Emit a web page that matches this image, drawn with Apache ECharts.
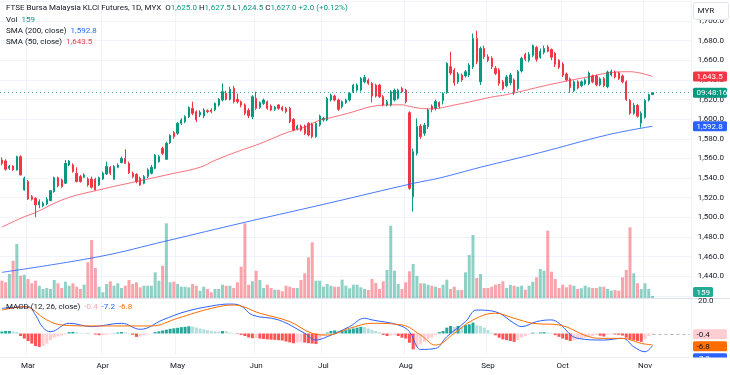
<!DOCTYPE html>
<html><head><meta charset="utf-8">
<script src="https://cdn.jsdelivr.net/npm/echarts@6/dist/echarts.min.js"></script>
<style>html,body{margin:0;padding:0;background:#fff}#c{width:730px;height:375px}</style>
</head><body><div id="c"></div>
<script>
// ---------- DATA ----------
const firstDay = '2024-02-21';
const holidays = ['2024-03-28','2024-04-10','2024-04-11','2024-05-01','2024-05-22','2024-06-03','2024-06-17','2024-07-08','2024-09-16','2024-10-31'];
const monthLabels = ['Jan','Feb','Mar','Apr','May','Jun','Jul','Aug','Sep','Oct','Nov','Dec'];
const padBars = 10;
// [open, close, low, high]
const ohlc = [
[1558.4,1555.0,1553.0,1561.1],[1557.4,1548.9,1547.6,1559.1],[1550.0,1552.3,1548.3,1553.3],[1552.3,1548.3,1547.6,1553.0],[1548.3,1561.8,1547.6,1562.8],
[1561.8,1543.2,1542.8,1563.2],[1527.9,1539.8,1527.2,1541.5],[1536.4,1518.8,1517.8,1538.1],[1521.1,1518.4,1517.1,1522.8],[1519.4,1512.7,1500.0,1520.5],
[1512.7,1516.1,1509.3,1518.4],[1511.7,1514.4,1510.3,1516.1],[1513.7,1518.4,1512.3,1520.5],[1517.1,1527.2,1516.4,1527.9],[1526.2,1540.4,1525.2,1541.5],
[1540.4,1532.0,1530.6,1541.5],[1538.1,1531.3,1530.0,1539.4],[1534.7,1555.0,1534.0,1558.4],[1553.3,1557.4,1552.3,1558.4],[1553.3,1546.6,1545.5,1555.0],
[1544.9,1536.4,1535.7,1551.0],[1541.5,1536.4,1535.4,1543.2],[1540.8,1543.2,1540.1,1544.9],[1539.1,1533.0,1531.3,1540.8],[1539.1,1530.6,1529.3,1541.5],
[1538.8,1527.9,1527.2,1540.4],[1533.0,1540.4,1532.0,1541.5],[1539.1,1544.9,1538.1,1546.6],[1544.2,1551.7,1543.2,1556.7],[1551.0,1544.9,1543.2,1552.3],
[1538.8,1551.7,1538.1,1553.3],[1551.0,1553.3,1550.0,1555.0],[1555.7,1560.1,1555.0,1561.8],[1560.1,1555.0,1554.4,1569.3],[1555.0,1545.5,1544.2,1556.7],
[1544.9,1541.5,1539.8,1546.6],[1543.8,1536.4,1534.7,1544.9],[1539.8,1533.0,1532.0,1541.5],[1534.7,1541.5,1533.7,1543.2],[1541.5,1548.3,1539.8,1550.0],
[1544.9,1551.0,1543.8,1553.3],[1549.9,1563.5,1548.9,1564.5],[1556.7,1561.8,1555.7,1563.5],[1570.3,1565.2,1563.5,1572.0],[1559.1,1575.4,1558.4,1577.1],
[1576.0,1583.5,1574.7,1584.5],[1586.3,1582.2,1580.0,1588.0],[1585.6,1595.8,1584.0,1597.0],[1595.8,1599.2,1594.0,1601.0],[1597.5,1602.5,1596.0,1604.0],
[1602.5,1612.0,1601.0,1613.0],[1611.0,1606.0,1604.0,1617.8],[1607.6,1599.2,1597.0,1609.0],[1604.2,1606.9,1602.0,1609.0],[1603.2,1609.3,1601.0,1611.0],
[1608.6,1607.6,1606.0,1610.0],[1609.3,1607.6,1606.0,1611.0],[1609.3,1616.1,1608.0,1617.0],[1614.4,1620.2,1613.0,1621.5],[1619.5,1628.0,1618.0,1636.4],
[1626.3,1620.2,1619.0,1629.0],[1620.2,1630.3,1619.0,1633.0],[1631.4,1617.8,1616.0,1634.0],[1620.2,1617.8,1616.0,1626.0],[1617.8,1614.4,1612.0,1619.0],
[1614.4,1605.9,1604.0,1616.0],[1609.0,1603.5,1601.0,1611.0],[1602.5,1622.9,1600.0,1624.5],[1621.2,1611.0,1609.5,1628.0],[1612.0,1616.8,1610.5,1618.0],
[1616.1,1619.5,1614.5,1621.0],[1617.8,1611.0,1609.5,1619.0],[1613.4,1609.3,1608.0,1615.0],[1610.0,1612.0,1608.5,1613.5],[1614.4,1611.0,1609.5,1615.5],
[1612.0,1609.3,1608.0,1613.5],[1611.0,1607.6,1606.0,1612.5],[1611.0,1597.4,1596.0,1612.5],[1599.8,1588.9,1587.5,1601.0],[1590.0,1593.0,1588.5,1594.5],
[1593.0,1588.9,1587.5,1594.5],[1593.0,1585.5,1584.0,1594.5],[1595.7,1583.9,1582.5,1597.0],[1595.0,1582.2,1580.5,1596.5],[1582.2,1595.7,1581.0,1597.0],
[1594.0,1603.2,1592.5,1604.5],[1599.1,1600.8,1597.5,1602.5],[1599.1,1621.2,1598.0,1622.5],[1619.5,1624.5,1618.0,1626.0],[1623.5,1619.5,1618.0,1625.0],
[1619.5,1610.0,1608.5,1621.0],[1612.7,1617.8,1611.0,1619.0],[1616.8,1619.5,1615.5,1621.0],[1619.5,1626.2,1618.0,1627.5],[1628.0,1634.7,1626.5,1636.0],
[1629.6,1634.7,1628.0,1636.5],[1629.6,1641.5,1628.0,1643.0],[1638.0,1642.5,1636.5,1645.0],[1639.8,1636.4,1635.0,1641.5],[1636.4,1623.5,1617.0,1638.0],
[1634.7,1623.5,1622.0,1636.0],[1634.7,1622.9,1621.5,1636.0],[1622.9,1614.4,1613.0,1624.5],[1614.4,1617.8,1613.0,1619.5],[1614.4,1628.0,1613.0,1629.5],
[1619.5,1629.6,1618.0,1631.0],[1621.2,1629.6,1620.0,1631.0],[1631.3,1627.9,1626.5,1633.0],[1629.6,1617.8,1616.0,1631.0],[1606.6,1529.6,1528.0,1608.0],
[1521.0,1566.9,1505.8,1570.0],[1565.2,1592.4,1563.0,1600.8],[1593.0,1582.2,1580.0,1595.0],[1585.6,1593.8,1583.0,1596.0],[1592.4,1609.3,1590.0,1611.0],
[1613.4,1610.0,1607.0,1615.0],[1611.0,1618.0,1609.0,1620.0],[1617.0,1613.0,1611.0,1618.0],[1619.0,1626.0,1615.0,1627.5],[1627.0,1656.8,1626.0,1658.0],
[1653.4,1647.0,1645.0,1668.7],[1650.0,1637.0,1634.0,1652.0],[1638.0,1646.0,1636.0,1648.0],[1645.0,1640.0,1638.0,1646.5],[1644.0,1648.3,1642.5,1650.0],
[1645.0,1655.1,1643.0,1657.0],[1653.4,1682.2,1651.0,1687.3],[1682.2,1658.5,1656.0,1690.0],[1638.1,1672.0,1634.7,1674.0],[1672.0,1663.5,1661.0,1675.0],
[1663.5,1660.0,1658.0,1666.0],[1662.0,1653.4,1651.0,1664.0],[1651.7,1646.6,1645.0,1654.0],[1650.0,1636.4,1634.0,1652.0],[1638.0,1631.0,1629.5,1640.0],
[1634.0,1643.0,1632.5,1645.0],[1637.0,1645.0,1634.5,1647.0],[1640.0,1627.5,1624.5,1641.5],[1631.0,1648.5,1629.0,1650.0],[1649.0,1662.0,1647.5,1663.5],
[1666.0,1661.0,1659.0,1667.5],[1660.0,1666.0,1658.0,1668.5],[1665.0,1675.0,1663.0,1676.0],[1673.0,1661.0,1658.5,1674.5],[1663.0,1669.0,1661.5,1672.0],
[1668.0,1672.0,1666.0,1675.0],[1673.5,1669.0,1668.0,1675.5],[1671.0,1663.0,1660.0,1672.0],[1667.0,1656.0,1653.0,1668.5],[1660.0,1653.0,1651.0,1661.0],
[1656.0,1645.0,1643.0,1658.0],[1646.0,1640.0,1638.5,1647.5],[1641.0,1632.0,1627.0,1642.5],[1629.0,1638.0,1627.5,1639.5],[1638.0,1632.0,1630.5,1639.5],
[1634.0,1638.0,1632.5,1639.5],[1636.0,1640.0,1634.5,1641.5],[1636.0,1647.0,1634.5,1648.5],[1644.0,1638.0,1636.5,1645.5],[1644.0,1635.0,1633.5,1645.5],
[1635.0,1641.0,1633.5,1642.5],[1641.5,1634.0,1632.5,1643.0],[1633.0,1648.0,1631.5,1649.5],[1645.0,1648.5,1643.5,1650.5],[1648.0,1643.0,1641.5,1649.5],
[1647.0,1641.5,1640.0,1648.5],[1644.0,1638.0,1636.5,1645.5],[1638.0,1620.0,1618.5,1639.5],[1619.0,1606.0,1604.5,1620.5],[1606.0,1614.0,1604.5,1616.5],
[1614.0,1603.0,1601.5,1615.5],[1596.0,1606.0,1591.5,1608.0],[1602.0,1619.0,1600.5,1620.5],[1619.5,1625.0,1618.0,1626.0],[1625.0,1627.0,1624.5,1627.5]
];
const volume = [
1384,1256,1920,2984,4320,1784,1864,1520,1176,1384,
984,720,800,720,1440,1176,800,1304,984,1176,
904,720,1064,2856,4640,2400,904,456,1120,1336,
984,1176,800,984,1440,1120,1256,856,984,984,
984,2056,1384,2584,5976,1256,1304,1120,904,904,
856,1120,984,584,904,720,456,720,720,1064,
984,984,800,1256,2504,5976,1064,1336,2184,1440,
800,1064,800,664,664,536,984,904,800,800,
1440,1976,3256,4456,1384,1384,904,1120,984,904,
904,1464,984,776,1064,1064,856,
720,640,1520,1200,720,1336,2240,5784,2184,1120,
720,1256,2136,2720,1760,1176,1176,1064,984,904,
800,1064,1464,720,904,640,640,2056,3440,5040,
1600,1920,800,800,904,1064,1120,1336,800,1040,
984,904,984,664,984,1304,1656,2320,2184,5384,
2104,1520,800,1064,856,1064,984,720,776,984,
856,800,800,904,904,720,584,640,584,1656,
2240,5656,1976,1176,720,1176,720,159
];
// [bar index, value]
const sma50 = [[0,1490],[5,1499],[9,1505],[17,1519],[26,1528],[36,1536.5],[45,1544],[53,1551],[57,1558],[63,1567],[69,1575],[76,1586],[81,1592],[85,1599],[88,1601.5],[94,1607.5],[99,1613],[104,1614.5],[107,1614.6],[109,1613],[112,1611],[115,1610.5],[121,1614.4],[125,1617.5],[131,1622.5],[135,1625],[144,1633],[150,1638],[157,1643.2],[163,1647.5],[168,1648.3],[174,1643.5]];
const sma200 = [[0,1444],[26,1460],[44,1476],[65,1495],[80,1508],[88,1515],[110,1534.6],[117,1540],[128,1551],[144,1566],[162,1584],[174,1592.8]];
const macdLine = [[0,15],[7,16],[9,11],[11,3.5],[13,1.1],[18,6.1],[24,4.1],[32,6.1],[37,2.5],[43,8.1],[49,13],[56,16.4],[61,17.6],[64,16.4],[67,11],[74,8.1],[81,0.1],[84,-3.9],[87,-1.9],[93,4.1],[97,9.1],[99,8.1],[106,5.1],[109,1.1],[111,-7.9],[112,-9.5],[116,-8.9],[119,-1.9],[124,7.1],[127,14],[132,13],[137,6.1],[139,4.1],[143,7.1],[147,8.1],[149,6.1],[154,-2.9],[161,-3.9],[166,-2.9],[169,-7.9],[172,-10.9],[174,-7.2]];
const signalLine = [[0,14],[6,16],[12,8.1],[16,5.1],[24,4.5],[32,4.5],[40,4.5],[47,9.1],[56,15],[62,17],[69,12.1],[77,7.1],[83,0.1],[87,-0.9],[93,3.1],[99,6.1],[107,5.1],[112,-0.9],[116,-6.9],[121,0.1],[126,8.1],[132,12.1],[137,9.1],[142,6.1],[149,5.1],[157,-1.9],[161,-2.9],[166,-2.9],[171,-5.9],[174,-6.8]];
const hist = [
1.2,1.5,1.5,1.2,1.0,-1.5,-3,-4.5,-6,-7.5,
-8,-7.5,-6,-4,-2.5,-1.8,-1.2,-0.6,0.8,1.0,
0.8,0.3,0.2,0.2,0.1,-0.6,-1.0,-1.0,-0.8,-0.5,
0.2,0.6,0.9,0.7,0.3,-0.8,-2.0,-1.8,-1.2,-0.6,
-0.2,0.8,1.3,1.8,2.3,2.8,3.1,3.4,3.8,4.0,
4.3,4.2,3.6,3.0,2.5,2.0,1.6,1.3,1.2,1.5,
1.4,0.6,0.2,-0.3,-0.8,-1.5,-2.3,-2.8,-2.7,-3.0,
-3.3,-3.5,-3.7,-3.8,-4.0,-4.2,-4.8,-5.3,-5.8,-5.5,
-5.2,-5.4,-5.8,-6.0,-6.3,-3.5,-1.5,0.5,1.5,1.8,
1.5,1.7,2.0,2.5,3.0,3.5,4.0,3.8,3.0,2.2,
1.5,0.8,-0.8,-1.5,-1.2,-1.0,-1.5,-2.5,-3.0,-5.5,
-9.5,-8.0,-6.5,-5.0,-3.5,-2.5,-1.0,0.8,1.5,3.5,
4.5,4.0,4.5,4.0,5.0,5.5,6.5,5.0,4.5,3.5,
2.0,0.5,-1.0,-2.5,-3.5,-4.0,-4.5,-5.0,-4.0,-2.5,
-1.5,-0.5,0.5,0.4,0.6,0.8,0.6,0.2,-1.0,-2.0,
-3.0,-3.8,-4.5,-4.0,-3.5,-3.0,-2.6,-2.0,-1.5,-1.0,
-1.3,-1.8,-0.8,-0.5,-0.6,-0.8,-1.2,-2.5,-3.5,-4.0,
-4.5,-5.0,-3.5,-1.5,-0.4
];
const priceTicks = [1440,1460,1480,1500,1520,1540,1560,1580,1600,1620,1640,1660,1680,1700];
const countdown = '09:48:16';

// ---------- BUILD ----------
const FONT = 'Roboto, "Noto Sans", sans-serif';
const UP = '#089981', DN = '#F23645';
const hol = new Set(holidays);
const dates = [];
{
  const d = new Date(firstDay + 'T00:00:00Z');
  while (dates.length < ohlc.length) {
    const wd = d.getUTCDay();
    const s = d.toISOString().slice(0,10);
    if (wd !== 0 && wd !== 6 && !hol.has(s)) dates.push(s);
    d.setUTCDate(d.getUTCDate() + 1);
  }
}
const cats = dates.concat(Array.from({length: padBars}, (_, i) => 'pad' + i));
const monthStart = new Set();
for (let i = 1; i < dates.length; i++) if (dates[i].slice(5,7) !== dates[i-1].slice(5,7)) monthStart.add(i);
const isUp = i => ohlc[i][1] >= ohlc[i][0];
const fmt1 = v => v.toLocaleString('en-US', {minimumFractionDigits:1, maximumFractionDigits:1});

const N = cats.length;
const STEP = 3.739;
const GW = N * STEP;
const PX_PER = 0.982; // px per price unit
const pMin = 1420, pMax = 1740;
const yTop1680 = 40.6;
const gridTop = yTop1680 - (pMax - 1680) * PX_PER;
const gridH = (pMax - pMin) * PX_PER;
const PANE_BOTTOM = 298;
const MACD_TOP = 298, MACD_BOTTOM = 355;
const M_ZERO_Y = 333.5, M_PX = 1.675;

const histData = hist.map((v, i) => {
  const p = i > 0 ? hist[i-1] : v;
  let c;
  if (v >= 0) c = v >= p ? '#26A69A' : '#B2DFDB';
  else c = v < p ? '#FF5252' : '#FFCDD2';
  return {value: v, itemStyle: {color: c}};
});

const splitX = {show: true, interval: (i) => monthStart.has(i), lineStyle: {color: '#f0f3fa', width: 1}};
const last = ohlc.length - 1;
const lastClose = ohlc[last][1];

const option = {
  animation: false,
  backgroundColor: '#ffffff',
  grid: [
    {left: 0, width: GW, top: gridTop, height: gridH, outerBoundsMode: 'none', containLabel: false},
    {left: 0, width: GW, top: 0, height: PANE_BOTTOM, outerBoundsMode: 'none', containLabel: false},
    {left: 0, width: GW, top: MACD_TOP, height: MACD_BOTTOM - MACD_TOP, outerBoundsMode: 'none', containLabel: false}
  ],
  xAxis: [
    {type: 'category', gridIndex: 0, data: cats, boundaryGap: true, axisLine: {show: false}, axisTick: {show: false}, axisLabel: {show: false}, splitLine: splitX},
    {type: 'category', gridIndex: 1, data: cats, boundaryGap: true, show: false},
    {type: 'category', gridIndex: 2, data: cats, boundaryGap: true, axisLine: {show: false}, axisTick: {show: false},
     axisLabel: {interval: (i) => monthStart.has(i), formatter: (v) => v.startsWith('pad') ? '' : monthLabels[parseInt(v.slice(5,7),10)-1],
       fontSize: 8, color: '#131722', fontFamily: FONT, margin: 7},
     splitLine: splitX}
  ],
  yAxis: [
    {type: 'value', gridIndex: 0, position: 'right', min: pMin, max: pMax, interval: 20,
     axisLine: {show: false}, axisTick: {show: false},
     axisLabel: {formatter: v => priceTicks.includes(v) ? fmt1(v) : '', fontSize: 8, color: '#131722', fontFamily: FONT, margin: 6},
     splitLine: {lineStyle: {color: '#f0f3fa', width: 1}}},
    {type: 'value', gridIndex: 1, min: 0, max: PANE_BOTTOM * 80, show: false, splitLine: {show: false}},
    {type: 'value', gridIndex: 2, position: 'right',
     min: -(MACD_BOTTOM - M_ZERO_Y) / M_PX, max: (M_ZERO_Y - MACD_TOP) / M_PX,
     axisLine: {show: false}, axisTick: {show: false}, axisLabel: {show: false}, splitLine: {show: false}}
  ],
  series: [
    {type: 'bar', xAxisIndex: 1, yAxisIndex: 1, barWidth: 3, z: 1, silent: true,
     data: volume.map((v, i) => ({value: v, itemStyle: {color: isUp(i) ? 'rgba(8,153,129,0.45)' : 'rgba(242,54,69,0.45)'}}))},
    {type: 'candlestick', xAxisIndex: 0, yAxisIndex: 0, data: ohlc, barWidth: 1.8, z: 3,
     itemStyle: {color: UP, color0: DN, borderColor: UP, borderColor0: DN, borderWidth: 1},
     markLine: {symbol: 'none', silent: true, label: {show: false}, lineStyle: {type: [1, 3], color: UP, width: 1, opacity: 0.7}, data: [{yAxis: lastClose}]}},
    {type: 'line', xAxisIndex: 0, yAxisIndex: 0, data: sma200, smooth: 0.4, showSymbol: false, z: 4,
     lineStyle: {color: '#2962FF', width: 1, opacity: 0.85}},
    {type: 'line', xAxisIndex: 0, yAxisIndex: 0, data: sma50, smooth: 0.4, showSymbol: false, z: 4,
     lineStyle: {color: '#F23645', width: 1, opacity: 0.7}},
    {type: 'bar', xAxisIndex: 2, yAxisIndex: 2, data: histData, barWidth: 3, z: 2,
     markLine: {symbol: 'none', silent: true, label: {show: false}, lineStyle: {type: [3, 3], color: '#b2b5be', width: 1},
       data: [[{coord: [last, hist[last]]}, {coord: [N - 1, hist[last]]}]]}},
    {type: 'line', xAxisIndex: 2, yAxisIndex: 2, data: macdLine, smooth: 0.4, showSymbol: false, z: 4,
     lineStyle: {color: '#2962FF', width: 1}},
    {type: 'line', xAxisIndex: 2, yAxisIndex: 2, data: signalLine, smooth: 0.4, showSymbol: false, z: 4,
     lineStyle: {color: '#FF6D00', width: 1}}
  ]
};

const chart = echarts.init(document.getElementById('c'), null, {renderer: 'canvas'});
chart.setOption(option);

// ---------- overlay texts / tags ----------
const yP = v => chart.convertToPixel({yAxisIndex: 0}, v);
const yV = v => chart.convertToPixel({yAxisIndex: 1}, v);
const yM = v => chart.convertToPixel({yAxisIndex: 2}, v);
const g = [];
const TX = 696.5;
function tag(yc, text, bg, fg, w) {
  g.push({type: 'rect', z: 50, shape: {x: 693, y: yc - 5, width: w || 34, height: 10, r: 1.5}, style: {fill: bg}});
  g.push({type: 'text', z: 51, x: TX, y: yc + 0.5, style: {text, fill: fg, fontSize: 8, fontFamily: FONT, verticalAlign: 'middle', align: 'left'}});
}
function rtext(x, y, text, rich) {
  const r = {};
  for (const k in rich) r[k] = Object.assign({fontSize: 8, fontFamily: FONT}, rich[k]);
  g.push({type: 'text', z: 60, x, y, style: {text, rich: r, fontSize: 8, fontFamily: FONT, fill: '#131722', verticalAlign: 'middle', align: 'left'}});
}
// separators
g.push({type: 'rect', z: 40, shape: {x: 0, y: PANE_BOTTOM, width: 730, height: 1}, style: {fill: '#e0e3eb'}});
g.push({type: 'rect', z: 40, shape: {x: 0, y: 357, width: 730, height: 1}, style: {fill: '#eceef3'}});

const L = ohlc[last], P = ohlc[last - 1];
const chg = L[1] - P[1];
const pct = chg / P[1] * 100;
const sgn = v => (v >= 0 ? '+' : '') ;
rtext(6, 8, '{d|FTSE Bursa Malaysia KLCI Futures, 1D, MYX}  {d|O}{v|' + fmt1(L[0]) + '} {d|H}{v|' + fmt1(L[3]) + '} {d|L}{v|' + fmt1(L[2]) + '} {d|C}{v|' + fmt1(L[1]) + '} {v|' + sgn(chg) + fmt1(chg) + ' (' + sgn(pct) + pct.toFixed(2) + '%)}',
  {d: {fill: '#131722'}, v: {fill: UP}});
rtext(6, 19.5, '{d|Vol}  {v|' + volume[last] + '}', {d: {fill: '#131722'}, v: {fill: UP}});
rtext(6, 31, '{d|SMA (200, close)}  {v|' + fmt1(sma200[sma200.length-1][1]) + '}', {d: {fill: '#131722'}, v: {fill: '#2962FF'}});
rtext(6, 42, '{d|SMA (50, close)}  {v|' + fmt1(sma50[sma50.length-1][1]) + '}', {d: {fill: '#131722'}, v: {fill: '#F23645'}});
const mLast = macdLine[macdLine.length-1][1], sLast = signalLine[signalLine.length-1][1], hLast = hist[last];
rtext(6, 307, '{d|MACD (12, 26, close)}  {h|' + hLast.toFixed(1) + '}  {m|' + mLast.toFixed(1) + '}  {s|' + sLast.toFixed(1) + '}',
  {d: {fill: '#131722'}, h: {fill: '#f7a8b0'}, m: {fill: '#2962FF'}, s: {fill: '#FF6D00'}});

// axis top box
g.push({type: 'rect', z: 55, shape: {x: 693.5, y: 2.5, width: 35, height: 17, r: 2}, style: {fill: '#ffffff', stroke: '#e0e3eb', lineWidth: 1}});
g.push({type: 'text', z: 56, x: 697.5, y: 11, style: {text: 'MYR', fill: '#131722', fontSize: 8, fontFamily: FONT, verticalAlign: 'middle'}});
// MACD axis top label
g.push({type: 'text', z: 51, x: 698, y: yM(20) + 0.5, style: {text: '20.0', fill: '#131722', fontSize: 8, fontFamily: FONT, verticalAlign: 'middle'}});

tag(yP(sma50[sma50.length-1][1]), fmt1(sma50[sma50.length-1][1]), '#F23645', '#ffffff');
tag(yP(lastClose), countdown, UP, '#ffffff');
tag(yP(sma200[sma200.length-1][1]), fmt1(sma200[sma200.length-1][1]), '#2962FF', '#ffffff');
tag(Math.min(yV(volume[last]), PANE_BOTTOM - 6), String(volume[last]), '#22ab94', '#ffffff', 20);
tag(yM(hLast), hLast.toFixed(1), '#FFCDD2', '#131722');
const ySig = yM(sLast);
tag(ySig + 1.3, sLast.toFixed(1), '#FF6D00', '#131722');
tag(ySig + 13.3, mLast.toFixed(1), '#2962FF', '#ffffff');
// time axis area mask
g.push({type: 'rect', z: 58, shape: {x: 690, y: 357.5, width: 40, height: 18}, style: {fill: '#ffffff'}});

chart.setOption({graphic: {elements: g}});
</script>
</body></html>
